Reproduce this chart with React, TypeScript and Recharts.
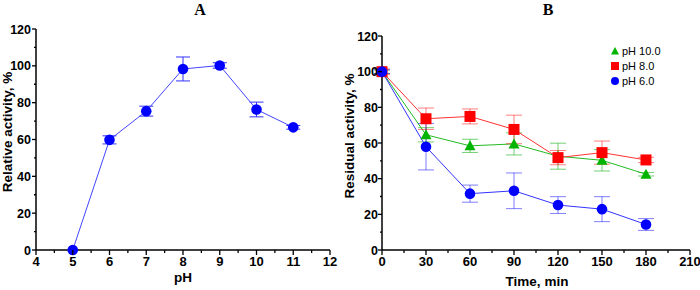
import React from "react";
import { ErrorBar, Legend, Line, LineChart, XAxis, YAxis } from "recharts";

// panel A: pH profile
const phValues = [5, 6, 7, 8, 9, 10, 11];
const relActivity = [0, 59.8, 75.4, 98.3, 100.2, 76.3, 66.6];
const relActivityErr = [0, 2.2, 2.7, 6.5, 1.5, 4.0, 1.0];

// panel B: stability over time
const timeMin = [0, 30, 60, 90, 120, 150, 180];
const ph10Residual = [100, 64.6, 58.4, 59.5, 52.6, 50.3, 42.5];
const ph10Err = [1, 4, 3.7, 6.2, 7.3, 6, 1];
const ph8Residual = [100, 73.6, 74.9, 67.6, 51.8, 54.6, 50.5];
const ph8Err = [1.5, 6, 4.2, 8, 4, 6.5, 1.5];
const ph6Residual = [100, 57.9, 31.6, 33.2, 25.2, 22.9, 14.3];
const ph6Err = [1, 13, 4.8, 10, 4.7, 7, 3.3];

const xMajorA = [4, 5, 6, 7, 8, 9, 10, 11, 12];
const xMinorA = [4.5, 5.5, 6.5, 7.5, 8.5, 9.5, 10.5, 11.5];
const xMajorB = [0, 30, 60, 90, 120, 150, 180, 210];
const xMinorB = [15, 45, 75, 105, 135, 165, 195];
const yMajor = [0, 20, 40, 60, 80, 100, 120];
const yMinor = [10, 30, 50, 70, 90, 110];

const dataA = phValues.map((ph, i) => ({
  ph,
  act: relActivity[i],
  err: relActivityErr[i],
}));

const dataB = timeMin.map((t, i) => ({
  t,
  g: ph10Residual[i],
  ge: ph10Err[i],
  r: ph8Residual[i],
  re: ph8Err[i],
  b: ph6Residual[i],
  be: ph6Err[i],
}));

const FONT = "'Liberation Sans', Arial, sans-serif";
const SERIF = "'Liberation Serif', 'Times New Roman', serif";
const GREEN = "#00b400";
const RED = "#ff0000";
const BLUE = "#0000ff";

const makeXTick = (major: number[]) => (props: any) => {
  const { x, y, payload } = props;
  const isMajor = major.includes(payload.value);
  return (
    <g>
      <line x1={x} x2={x} y1={y} y2={y + (isMajor ? 5 : 3)} stroke="#000" strokeWidth={1.3} />
      {isMajor && (
        <text x={x} y={y + 15.5} textAnchor="middle" fontFamily={FONT} fontWeight="bold" fontSize={13} fill="#000">
          {payload.value}
        </text>
      )}
    </g>
  );
};

const makeYTick = (gap: number) => (props: any) => {
  const { x, y, payload } = props;
  const isMajor = yMajor.includes(payload.value);
  return (
    <g>
      <line x1={x} x2={x - (isMajor ? 4 : 2)} y1={y} y2={y} stroke="#000" strokeWidth={1.3} />
      {isMajor && (
        <text x={x - gap} y={y} dy="0.36em" textAnchor="end" fontFamily={FONT} fontWeight="bold" fontSize={12.5} fill="#000">
          {payload.value}
        </text>
      )}
    </g>
  );
};

const Triangle = (props: any) => {
  const { cx, cy, fill } = props;
  if (cx == null || cy == null) return <g key={props.key} />;
  return <polygon key={props.key} points={`${cx},${cy - 5.5} ${cx - 5.5},${cy + 4.5} ${cx + 5.5},${cy + 4.5}`} fill={fill} />;
};

const Square = (props: any) => {
  const { cx, cy, fill } = props;
  if (cx == null || cy == null) return <g key={props.key} />;
  return <rect key={props.key} x={cx - 5.5} y={cy - 5.5} width={11} height={11} fill={fill} />;
};

const Circle = (props: any) => {
  const { cx, cy, fill } = props;
  if (cx == null || cy == null) return <g key={props.key} />;
  return <circle key={props.key} cx={cx} cy={cy} r={5.3} fill={fill} />;
};

const legendItems = [
  { name: "pH 10.0", color: GREEN, shape: "triangle" },
  { name: "pH 8.0", color: RED, shape: "square" },
  { name: "pH 6.0", color: BLUE, shape: "circle" },
];

const LegendBox = () => (
  <svg width={90} height={48}>
    {legendItems.map((it, i) => {
      const cy = 8 + i * 15;
      return (
        <g key={it.name}>
          {it.shape === "triangle" && <polygon points={`7,${cy - 4} 3,${cy + 3.5} 11,${cy + 3.5}`} fill={it.color} />}
          {it.shape === "square" && <rect x={3} y={cy - 4} width={8} height={8} fill={it.color} />}
          {it.shape === "circle" && <circle cx={7} cy={cy} r={4} fill={it.color} />}
          <text x={14} y={cy} dy="0.36em" fontFamily={FONT} fontSize={11} fill="#000">
            {it.name}
          </text>
        </g>
      );
    })}
  </svg>
);

export default function App() {
  return (
    <div style={{ position: "absolute", left: 0, top: 0, width: 700, height: 290, background: "#fff" }}>
      <div style={{ position: "absolute", left: 0, top: 0 }}>
        <LineChart width={350} height={290} data={dataA} margin={{ top: 29, right: 20, left: 0, bottom: 0 }}>
          <XAxis
            dataKey="ph"
            type="number"
            domain={[4, 12]}
            ticks={[...xMajorA, ...xMinorA]}
            interval={0}
            height={40}
            tickSize={0}
            tickMargin={0}
            tickLine={false}
            tick={makeXTick(xMajorA)}
            axisLine={{ stroke: "#000", strokeWidth: 1.5 }}
          />
          <YAxis
            type="number"
            domain={[0, 120]}
            ticks={[...yMajor, ...yMinor]}
            interval={0}
            width={36}
            tickSize={0}
            tickMargin={0}
            tickLine={false}
            tick={makeYTick(5)}
            axisLine={{ stroke: "#000", strokeWidth: 1.5 }}
          />
          <Line
            dataKey="act"
            stroke="#4444ff"
            strokeWidth={1}
            dot={(p: any) => <Circle {...p} fill={BLUE} />}
            isAnimationActive={false}
          >
            <ErrorBar dataKey="err" width={7} stroke="#3333ff" strokeWidth={1} direction="y" />
          </Line>
        </LineChart>
      </div>
      <div style={{ position: "absolute", left: 350, top: 0 }}>
        <LineChart width={350} height={290} data={dataB} margin={{ top: 36, right: 10, left: 0, bottom: 0 }}>
          <XAxis
            dataKey="t"
            type="number"
            domain={[0, 210]}
            ticks={[...xMajorB, ...xMinorB]}
            interval={0}
            height={40}
            tickSize={0}
            tickMargin={0}
            tickLine={false}
            tick={makeXTick(xMajorB)}
            axisLine={{ stroke: "#000", strokeWidth: 1.5 }}
          />
          <YAxis
            type="number"
            domain={[0, 120]}
            ticks={[...yMajor, ...yMinor]}
            interval={0}
            width={32}
            tickSize={0}
            tickMargin={0}
            tickLine={false}
            tick={makeYTick(4)}
            axisLine={{ stroke: "#000", strokeWidth: 1.5 }}
          />
          <Legend
            layout="vertical"
            align="center"
            verticalAlign="middle"
            content={() => <LegendBox />}
            wrapperStyle={{ left: 258, top: 43, width: 90, height: 48 }}
          />
          <Line
            dataKey="g"
            name="pH 10.0"
            stroke="#22bb22"
            strokeWidth={1}
            dot={(p: any) => <Triangle {...p} fill={GREEN} />}
            isAnimationActive={false}
          >
            <ErrorBar dataKey="ge" width={8} stroke="rgba(0,170,0,0.55)" strokeWidth={1} direction="y" />
          </Line>
          <Line
            dataKey="r"
            name="pH 8.0"
            stroke="#ff3333"
            strokeWidth={1}
            dot={(p: any) => <Square {...p} fill={RED} />}
            isAnimationActive={false}
          >
            <ErrorBar dataKey="re" width={8} stroke="rgba(255,0,0,0.5)" strokeWidth={1} direction="y" />
          </Line>
          <Line
            dataKey="b"
            name="pH 6.0"
            stroke="#3333ff"
            strokeWidth={1}
            dot={(p: any) => <Circle {...p} fill={BLUE} />}
            isAnimationActive={false}
          >
            <ErrorBar dataKey="be" width={8} stroke="rgba(0,0,255,0.5)" strokeWidth={1} direction="y" />
          </Line>
        </LineChart>
      </div>
      <svg width={700} height={290} style={{ position: "absolute", left: 0, top: 0, pointerEvents: "none" }}>
        <text x={200} y={15} textAnchor="middle" fontFamily={SERIF} fontWeight="bold" fontSize={16}>
          A
        </text>
        <text x={548} y={15} textAnchor="middle" fontFamily={SERIF} fontWeight="bold" fontSize={16}>
          B
        </text>
        <text
          x={7}
          y={132}
          transform="rotate(-90 7 132)"
          textAnchor="middle"
          dy="0.36em"
          fontFamily={FONT}
          fontWeight="bold"
          fontSize={13.5}
        >
          Relative activity, %
        </text>
        <text
          x={349.5}
          y={136}
          transform="rotate(-90 349.5 136)"
          textAnchor="middle"
          dy="0.36em"
          fontFamily={FONT}
          fontWeight="bold"
          fontSize={13.5}
        >
          Residual activity, %
        </text>
        <text x={183} y={281.5} textAnchor="middle" fontFamily={FONT} fontWeight="bold" fontSize={13.5}>
          pH
        </text>
        <text x={537} y={286} textAnchor="middle" fontFamily={FONT} fontWeight="bold" fontSize={13.5}>
          Time, min
        </text>
      </svg>
    </div>
  );
}
